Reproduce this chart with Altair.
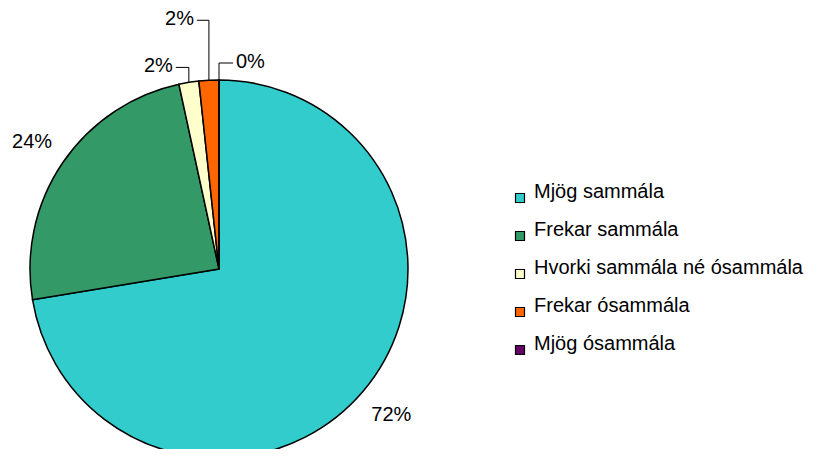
import altair as alt
import pandas as pd
import numpy as np

# ---- data ----
categories = ["Mjög sammála", "Frekar sammála", "Hvorki sammála né ósammála",
              "Frekar ósammála", "Mjög ósammála"]
values = [72.4, 24.2, 1.7, 1.7, 0.0]
labels = ["72%", "24%", "2%", "2%", "0%"]
colors = ["#33CCCC", "#339966", "#FFFFCC", "#FF6600", "#660066"]

# ---- layout ----
W, H = 803, 441
CX, CY, R = 211, 261, 189
LABEL_R = 226
FONT = "Liberation Sans"
FS = 20
# small-slice leaders: index -> (side, rise, run)
LEADERS = {2: (-1, 15, 13), 3: (-1, 60, 12), 4: (1, 17, 14)}

total = float(sum(values))
cum = np.cumsum([0.0] + values)
mids = [(cum[i] + values[i] / 2) / total * 2 * np.pi for i in range(len(values))]

pie_df = pd.DataFrame({"cat": categories, "value": values, "idx": range(len(values))})

text_rows, line_rows = [], []
for i, (lab, a) in enumerate(zip(labels, mids)):
    if i in LEADERS:
        side, rise, run = LEADERS[i]
        ax, ay = CX + R * np.sin(a), CY - R * np.cos(a)
        ey = ay - rise
        ex2 = ax + side * run
        line_rows += [
            {"g": i, "s": 0, "x": ax, "y": ay},
            {"g": i, "s": 1, "x": ax, "y": ey},
            {"g": i, "s": 2, "x": ex2, "y": ey},
        ]
        text_rows.append({"t": lab, "x": ex2 + side * 3, "y": ey - 1,
                          "anchor": "left" if side > 0 else "right"})
    else:
        text_rows.append({"t": lab, "x": CX + LABEL_R * np.sin(a),
                          "y": CY - LABEL_R * np.cos(a), "anchor": "center"})

text_df = pd.DataFrame(text_rows)
line_df = pd.DataFrame(line_rows)

pie = alt.Chart(pie_df).mark_arc(radius=R, stroke="black", strokeWidth=1.5).encode(
    theta=alt.Theta("value:Q", stack=True),
    order=alt.Order("idx:Q"),
    x=alt.value(CX),
    y=alt.value(CY),
    color=alt.Color(
        "cat:N",
        scale=alt.Scale(domain=categories, range=colors),
        legend=alt.Legend(
            title=None, orient="none", legendX=502, legendY=180,
            symbolType="square", symbolSize=81, symbolStrokeColor="black",
            symbolStrokeWidth=1.2, labelFontSize=FS, labelFont=FONT,
            labelColor="black", labelOffset=4, rowPadding=15,
            labelBaseline="alphabetic", padding=0, labelLimit=400,
        ),
    ),
)

lines = alt.Chart(line_df).mark_line(color="black", strokeWidth=1).encode(
    x=alt.X("x:Q", scale=None), y=alt.Y("y:Q", scale=None),
    detail="g:N", order="s:Q",
)

def text_layer(anchor):
    return alt.Chart(text_df).transform_filter(
        alt.datum.anchor == anchor
    ).mark_text(align=anchor, baseline="middle", font=FONT, fontSize=FS,
                color="black").encode(
        x=alt.X("x:Q", scale=None), y=alt.Y("y:Q", scale=None), text="t:N"
    )

chart = alt.layer(
    pie, lines, text_layer("center"), text_layer("left"), text_layer("right")
).properties(
    width=W, height=H, autosize=alt.AutoSizeParams(type="none"), padding=0,
    background="white",
).configure_view(stroke=None).configure_axis(disable=True)

chart.save("out.html", embed_options={"renderer": "svg", "actions": False})
